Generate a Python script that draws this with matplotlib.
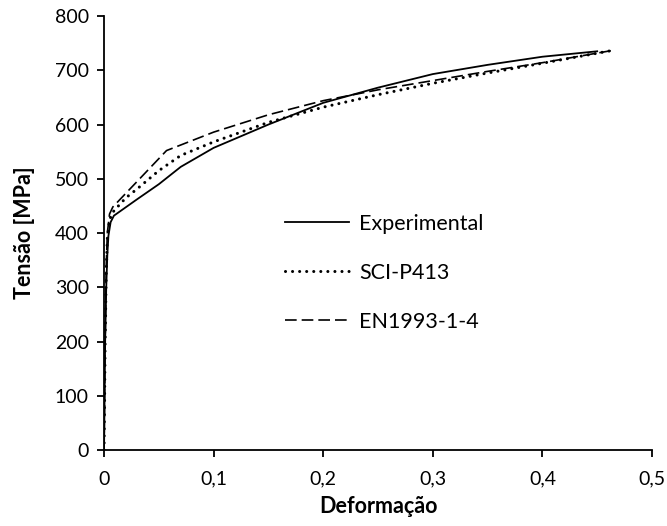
import matplotlib.pyplot as plt

plt.rcParams['font.family'] = ['Lato', 'DejaVu Sans']

# Stress-strain curves (strain [-], stress [MPa])
exp_strain = [0, 0.001, 0.002, 0.003, 0.004, 0.006, 0.009, 0.03, 0.05, 0.07,
              0.1, 0.15, 0.2, 0.25, 0.3, 0.35, 0.4, 0.45]
exp_stress = [0, 200, 300, 360, 395, 420, 432, 462, 490, 522,
              557, 600, 640, 668, 693, 710, 725, 735]

sci_strain = [0, 0.001, 0.002, 0.003, 0.005, 0.009, 0.02, 0.03, 0.05, 0.07,
              0.1, 0.15, 0.2, 0.25, 0.3, 0.35, 0.4, 0.465]
sci_stress = [0, 200, 330, 390, 425, 441, 465, 481, 515, 543,
              568, 604, 632, 655, 676, 695, 713, 737]

en_strain = [0, 0.001, 0.002, 0.003, 0.005, 0.008, 0.057, 0.1, 0.15, 0.2,
             0.25, 0.3, 0.35, 0.4, 0.465]
en_stress = [0, 200, 340, 400, 435, 448, 552, 586, 618, 644,
             664, 681, 698, 714, 737]

x_ticks = [0, 0.1, 0.2, 0.3, 0.4, 0.5]
x_labels = ['0', '0,1', '0,2', '0,3', '0,4', '0,5']
y_ticks = [0, 100, 200, 300, 400, 500, 600, 700, 800]

fig = plt.figure(figsize=(6.67, 5.26), dpi=100)
ax = fig.add_axes([0.156, 0.1445, 0.8215, 0.825])

ax.plot(exp_strain, exp_stress, color='black', lw=1.3, label='Experimental')
ax.plot(sci_strain, sci_stress, color='black', lw=2.2,
        linestyle=(0, (0.01, 2.3)), dash_capstyle='round', label='SCI-P413')
ax.plot(en_strain, en_stress, color='black', lw=1.2,
        linestyle=(0, (7, 3)), label='EN1993-1-4')

ax.set_xlim(0, 0.5)
ax.set_ylim(0, 800)
ax.set_xticks(x_ticks)
ax.set_xticklabels(x_labels)
ax.set_yticks(y_ticks)
ax.tick_params(direction='out', length=5, width=1.3, labelsize=14, colors='black')
ax.tick_params(axis='x', pad=10)
ax.tick_params(axis='y', pad=6)

for side in ['top', 'right']:
    ax.spines[side].set_visible(False)
for side in ['left', 'bottom']:
    ax.spines[side].set_linewidth(1.3)

ax.set_xlabel('Deformação', fontsize=15.5, fontweight='bold', labelpad=6)
ax.set_ylabel('Tensão [MPa]', fontsize=15.5, fontweight='bold', labelpad=14)

ax.legend(loc='center left', bbox_to_anchor=(0.33, 0.408), frameon=False,
          fontsize=15.5, handlelength=3.0, handletextpad=0.45,
          labelspacing=1.35, borderpad=0, borderaxespad=0)

fig.savefig('out.png', dpi=100)
